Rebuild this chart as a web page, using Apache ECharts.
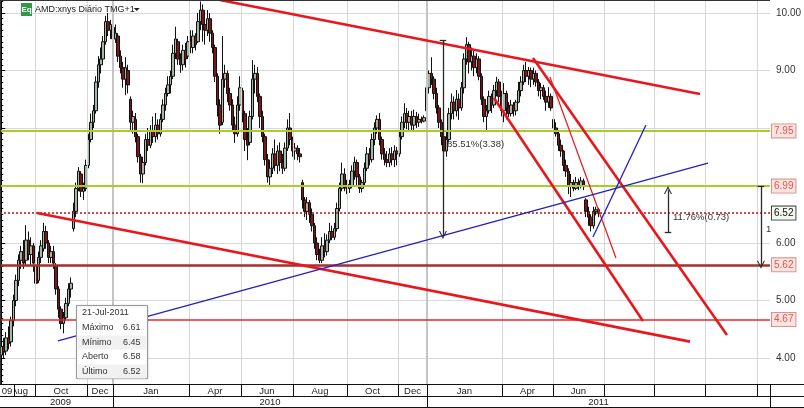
<!DOCTYPE html>
<html><head><meta charset="utf-8">
<script src="https://cdn.jsdelivr.net/npm/echarts@6/dist/echarts.min.js"></script>
<style>html,body{margin:0;padding:0;background:#fff;}#c{width:804px;height:408px;}</style>
</head><body><div id="c"></div>
<script>
// ---- DATA (each candle = two trading sessions, AMD:xnys, Aug-2009 .. 21-Jul-2011) ----
const opens = [
4.05,4.20,4.12,4.35,4.28,4.65,5.00,5.35,5.70,5.85,
5.70,6.05,5.80,5.95,5.60,5.35,5.75,5.90,6.20,6.00,
5.75,5.85,5.60,5.20,4.85,4.60,4.70,4.95,5.20,6.25,
6.55,6.95,7.20,6.90,6.95,7.35,7.80,8.10,8.30,8.80,
9.10,9.20,9.50,9.85,9.70,9.75,9.55,9.60,9.25,9.05,
8.85,9.00,8.50,8.10,8.15,7.85,7.50,7.20,7.40,7.80,
7.70,7.95,7.85,8.05,7.90,8.15,8.40,8.60,8.75,8.90,
9.30,9.50,9.20,9.10,9.35,9.25,9.50,9.40,9.60,9.50,
9.85,10.05,9.80,9.70,9.90,9.65,9.40,8.90,8.40,8.10,
8.85,8.95,8.60,8.40,8.05,7.90,8.40,8.65,8.25,7.80,
7.75,8.20,8.85,8.95,8.55,8.20,7.85,7.45,7.15,7.30,
7.55,7.35,7.60,7.40,7.30,7.65,8.00,7.80,7.60,7.65,
7.55,7.05,6.75,6.55,6.70,6.50,6.30,6.00,5.80,5.70,
5.95,5.85,6.05,6.20,6.10,6.25,6.60,6.95,7.20,7.00,
6.95,7.00,7.25,7.40,7.15,6.95,7.05,7.30,7.55,7.45,
7.80,8.00,8.15,7.80,7.55,7.45,7.40,7.55,7.45,7.60,
7.55,7.85,8.10,8.25,8.10,8.20,8.05,8.20,8.10,8.15,
8.12,8.30,8.70,8.95,8.85,8.60,8.35,8.10,7.85,7.60,
7.80,8.25,8.45,8.30,8.50,8.35,8.70,9.20,9.45,9.15,
9.25,9.05,9.20,8.90,8.50,8.20,8.30,8.55,8.40,8.65,
8.80,8.55,8.30,8.60,8.35,8.25,8.40,8.30,8.45,8.65,
8.80,9.00,8.90,9.00,8.85,8.95,8.80,8.65,8.70,8.55,
8.45,8.55,8.15,8.00,7.90,7.70,7.60,7.35,7.25,7.00,
7.05,6.95,7.05,7.00,7.08,6.75,6.55,6.45,6.30,6.55,
6.58];
const closes = [
4.20,4.10,4.35,4.25,4.65,5.00,5.35,5.70,5.85,5.65,
6.05,5.80,5.95,5.65,5.30,5.75,5.95,6.20,6.00,5.75,
5.85,5.65,5.20,4.85,4.60,4.70,4.95,5.20,5.30,6.55,
6.95,7.25,6.90,6.95,7.35,7.80,8.10,8.30,8.80,9.10,
9.20,9.50,9.85,9.70,9.80,9.55,9.65,9.25,9.05,8.85,
9.05,8.75,8.10,8.20,7.85,7.50,7.20,7.40,7.80,7.70,
7.95,7.85,8.05,7.90,8.15,8.40,8.60,8.75,8.90,9.30,
9.55,9.20,9.10,9.35,9.20,9.50,9.40,9.60,9.45,9.85,
10.05,9.80,9.70,9.90,9.65,9.40,8.90,8.40,8.05,8.85,
8.95,8.60,8.40,8.05,7.90,8.40,8.70,8.25,7.80,7.70,
8.20,8.85,8.95,8.55,8.20,7.85,7.45,7.15,7.30,7.55,
7.35,7.60,7.40,7.30,7.65,8.00,7.80,7.60,7.65,7.55,
7.50,6.75,6.55,6.70,6.50,6.30,6.00,5.80,5.70,5.95,
5.85,6.05,6.20,6.10,6.25,6.60,6.95,7.20,7.00,6.95,
7.02,7.25,7.40,7.15,6.95,7.05,7.30,7.55,7.45,7.80,
8.00,8.15,7.80,7.55,7.45,7.40,7.55,7.45,7.60,7.55,
7.85,8.10,8.25,8.10,8.20,8.05,8.20,8.10,8.15,8.12,
8.18,8.70,8.95,8.85,8.60,8.35,8.10,7.85,7.60,7.80,
8.25,8.45,8.30,8.50,8.35,8.70,9.20,9.45,9.15,9.25,
9.05,9.20,8.90,8.50,8.20,8.30,8.55,8.40,8.65,8.80,
8.55,8.30,8.60,8.35,8.25,8.40,8.30,8.45,8.65,8.80,
9.00,8.90,9.00,8.85,8.95,8.80,8.65,8.70,8.55,8.45,
8.55,8.35,8.00,7.90,7.70,7.60,7.35,7.25,7.00,7.05,
6.95,7.05,7.00,7.08,6.98,6.55,6.45,6.30,6.55,6.58,
6.52];
const lows = [
3.95,4.00,4.05,4.15,4.20,4.55,4.90,5.25,5.55,5.55,
5.60,5.70,5.60,5.50,5.13,5.30,5.65,5.85,5.90,5.65,
5.65,5.55,5.10,4.70,4.50,4.43,4.65,4.90,5.05,6.20,
6.45,6.90,6.80,6.75,6.90,7.30,7.75,8.00,8.25,8.70,
8.95,9.10,9.45,9.60,9.55,9.45,9.48,9.15,8.95,8.70,
8.57,8.60,7.95,7.90,7.75,7.40,7.05,7.04,7.35,7.60,
7.65,7.74,7.75,7.80,7.85,8.10,8.30,8.55,8.60,8.85,
9.20,9.10,8.96,9.00,9.05,9.20,9.30,9.30,9.35,9.48,
9.70,9.50,9.45,9.60,9.50,9.30,8.80,8.20,7.90,8.05,
8.70,8.45,8.30,7.95,7.74,7.85,8.30,8.10,7.60,7.44,
7.70,8.15,8.60,8.45,8.00,7.75,7.35,7.05,7.00,7.20,
7.25,7.20,7.25,7.20,7.25,7.60,7.70,7.50,7.45,7.44,
7.40,6.60,6.45,6.40,6.35,6.20,5.90,5.70,5.65,5.65,
5.75,5.78,6.00,6.05,6.05,6.20,6.55,6.90,6.90,6.85,
6.87,6.95,7.10,7.00,6.87,6.88,7.00,7.25,7.35,7.40,
7.70,7.90,7.70,7.45,7.35,7.32,7.32,7.35,7.32,7.35,
7.50,7.80,8.00,7.98,7.96,7.95,7.96,8.00,8.02,8.08,
8.10,8.25,8.60,8.75,8.50,8.25,8.00,7.70,7.39,7.50,
7.75,8.15,8.15,8.20,8.14,8.30,8.60,9.10,8.95,9.00,
8.90,8.95,8.83,8.40,8.10,7.96,8.25,8.26,8.35,8.55,
8.45,8.20,8.10,8.15,8.19,8.20,8.20,8.22,8.43,8.55,
8.75,8.80,8.75,8.71,8.75,8.72,8.55,8.50,8.49,8.30,
8.35,8.30,7.96,7.85,7.60,7.50,7.25,7.15,6.85,6.80,
6.90,6.92,6.92,6.95,6.92,6.45,6.30,6.20,6.25,6.48,
6.45];
const highs = [
4.30,4.35,4.45,4.55,4.72,5.10,5.45,5.80,5.95,6.05,
6.31,6.20,6.10,6.00,5.70,5.85,6.05,6.35,6.30,6.05,
5.95,5.95,5.65,5.25,4.90,4.80,5.05,5.30,5.40,6.70,
7.05,7.32,7.25,7.05,7.45,7.90,8.25,8.40,8.90,9.25,
9.40,9.60,9.95,10.00,9.88,9.85,9.80,9.65,9.35,9.15,
9.23,9.10,8.55,8.30,8.26,7.90,7.55,7.50,7.90,8.00,
8.05,8.20,8.26,8.15,8.25,8.50,8.70,8.90,9.00,9.45,
9.76,9.55,9.30,9.45,9.48,9.60,9.70,9.70,9.65,10.00,
10.20,10.15,9.95,10.05,10.00,9.70,9.45,8.95,8.50,9.60,
9.10,9.00,8.70,8.50,8.20,8.55,8.90,8.70,8.30,8.00,
8.30,9.18,9.10,9.06,8.60,8.30,7.90,7.55,7.45,7.65,
7.80,7.70,7.75,7.55,7.75,8.15,8.26,7.85,7.74,7.70,
7.65,7.10,6.80,6.80,6.75,6.60,6.35,6.10,5.90,6.10,
6.17,6.15,6.35,6.30,6.35,6.70,7.05,7.40,7.30,7.10,
7.10,7.35,7.50,7.45,7.20,7.10,7.40,7.67,7.65,7.90,
8.10,8.22,8.26,7.85,7.65,7.60,7.65,7.67,7.70,7.67,
7.96,8.20,8.43,8.35,8.30,8.30,8.32,8.28,8.25,8.20,
8.22,8.80,9.00,9.23,8.90,8.70,8.40,8.15,7.90,7.96,
8.35,8.60,8.55,8.66,8.60,8.80,9.30,9.58,9.50,9.40,
9.35,9.30,9.25,8.95,8.55,8.40,8.65,8.60,8.75,8.89,
8.85,8.65,8.78,8.65,8.45,8.49,8.45,8.49,8.80,8.90,
9.10,9.15,9.06,9.05,9.05,9.00,8.85,8.78,8.75,8.65,
8.71,8.60,8.19,8.10,7.96,7.80,7.62,7.45,7.30,7.20,
7.10,7.15,7.12,7.15,7.12,6.78,6.63,6.50,6.63,6.63,
6.61];
const lastDate = '21-Jul-2011';

// month starts, in candle units (x axis), and the header labels of each month cell
const monthEdges = [5.13, 13.57, 34.47, 44.92, 75.47, 96.36, 117.27, 138.97, 159.47, 171.13, 201.27, 221.77, 242.27, 262.37, 282.87, 303.76];
const monthLabels = ['09','Aug','Oct','Dec','Jan','Apr','Jun','Aug','Oct','Dec','Jan','Apr','Jun','','','','',''];
const yearEdges = [44.92, 171.13];
const yearLabels = ['2009','2010','2011'];

// price levels (horizontal lines with tags on the right axis)
const levelLines = [7.95, 6.99, 6.52, 5.62, 4.67];

// trend lines: [[x,price],[x,price]]
const redThick = [
  [[87.9,10.226],[280.85,8.591]],
  [[14.37,6.522],[276.83,4.285]],
  [[198.05,8.522],[257.94,4.643]],
  [[213.73,9.217],[291.7,4.40]]
];
const redThin = [[[220.56,8.887],[247.09,5.739]]];
const blueLines = [
  [[22.81,4.296],[284.07,7.391]],
  [[237.84,6.104],[259.15,8.052]]
];
// measuring arrows: x, from price (bar end), to price (arrow head)
const arrowX = [177.55, 268.0, 305.37];
const arrowFrom = [9.53, 6.19, 6.99];
const arrowTo = [6.14, 6.92, 5.62];
const arrowTexts = ['85.51%(3.38)', '11.76%(0.73)', '1'];
const arrowTextX = [179.2, 270.0, 307.4];
const arrowTextY = [7.72, 6.45, 6.24];

// ---- CHART ----
const FN = "'Liberation Sans Narrow','Liberation Sans',Arial,sans-serif";
const FA = "'Liberation Sans',Arial,sans-serif";
const chart = echarts.init(document.getElementById('c'));
const candles = opens.map((o, i) => [i, o, closes[i], lows[i], highs[i]]);

const PLOT_H = 392;           // plot height in px
const PPU = 57.5;             // px per price unit
const Y_TOP_VAL = 10 + 13 / PPU;            // price at top edge
const Y_BOT_VAL = Y_TOP_VAL - PLOT_H / PPU; // price at bottom edge

const pink = {bg:'#fbe3df', bd:'#d9918c', tx:'#e0564f'};
const levelLook = [
  {c:'#a9cc26', w:2, t:'solid', g:pink},
  {c:'#a9cc26', w:2, t:'solid', g:pink},
  {c:'#b3141a', w:1.5, t:[2,2], g:{bg:'#f3f7ee', bd:'#444', tx:'#111'}},
  {c:'#a3302e', w:2.5, t:'solid', g:pink},
  {c:'#e6262a', w:1.5, t:'solid', g:pink}
];

const seg = (a, b, style) => [{coord:a, symbol:'none', lineStyle:style}, {coord:b, symbol:'none'}];

const trendData = [];
redThick.forEach(l => trendData.push(seg(l[0], l[1], {color:'#e8171d', width:2.6, type:'solid'})));
redThin.forEach(l => trendData.push(seg(l[0], l[1], {color:'#e8171d', width:1.2, type:'solid'})));
blueLines.forEach(l => trendData.push(seg(l[0], l[1], {color:'#2020c0', width:1.3, type:'solid'})));
arrowX.forEach((x, i) => {
  trendData.push([{coord:[x, arrowFrom[i]], symbol:'none', lineStyle:{color:'#2a2a2a', width:1.3, type:'solid'}},
                  {coord:[x, arrowTo[i]], symbol:'path://M5,0 L10,9 L8.6,9 L5,2.6 L1.4,9 L0,9 Z', symbolSize:8}]);
  trendData.push(seg([x - 1.3, arrowFrom[i]], [x + 1.3, arrowFrom[i]], {color:'#2a2a2a', width:1.3, type:'solid'}));
});

const option = {
  animation: false,
  backgroundColor: '#fff',
  grid: {left: 0, top: 0, width: 770, height: PLOT_H, show: false},
  xAxis: {type: 'value', min: -0.5, max: 309, show: false, splitLine: {show: false}},
  yAxis: {
    type: 'value', position: 'right', min: Y_BOT_VAL, max: Y_TOP_VAL, minInterval: 1, maxInterval: 1, splitNumber: 7,
    axisLine: {show: true, lineStyle: {color: '#000', width: 1}},
    axisTick: {show: true, length: 4, lineStyle: {color: '#000'}},
    minorTick: {show: true, splitNumber: 10, length: 2, lineStyle: {color: '#000'}},
    splitLine: {show: true, lineStyle: {color: '#d9d9d9', width: 1}},
    minorSplitLine: {show: false},
    axisLabel: {color: '#333', fontSize: 10, fontFamily: FN, margin: 6, showMinLabel: false, showMaxLabel: false,
      formatter: v => (Math.abs(v - Math.round(v)) < 1e-6 && v >= 4 && v <= 10 && v !== 7 && v !== 8) ? v.toFixed(2) : ''}
  },
  series: [
    {type: 'line', data: [], z: 1, silent: true,
     markLine: {silent: true, symbol: 'none', label: {show: false},
       data: monthEdges.slice(1).map(u => ({xAxis: u,
         lineStyle: yearEdges.indexOf(u) >= 0 ? {color: '#c4c4c4', width: 2, type: 'solid'} : {color: '#d6d6d6', width: 1, type: 'solid'}}))}},
    {type: 'candlestick', data: candles, encode: {x: 0, y: [1, 2, 3, 4]}, z: 2, barWidth: 3,
     itemStyle: {color: '#a3b8a4', color0: '#7d1616', borderColor: '#111', borderColor0: '#111', borderWidth: 1}},
    {type: 'line', data: [], z: 3, silent: true,
     markLine: {silent: true, symbol: 'none',
       data: levelLines.map((v, i) => ({yAxis: v,
         lineStyle: {color: levelLook[i].c, width: levelLook[i].w, type: levelLook[i].t},
         label: {show: true, position: 'end', distance: 2, formatter: () => v.toFixed(2),
           fontSize: 10, fontFamily: FN, color: levelLook[i].g.tx, backgroundColor: levelLook[i].g.bg,
           borderColor: levelLook[i].g.bd, borderWidth: 1, padding: [2, 2, 1, 2]}}))}},
    {type: 'line', data: [], z: 4, silent: true,
     markLine: {silent: true, label: {show: false}, data: trendData}}
  ]
};
chart.setOption(option);

// ---- overlays: title, annotation texts, tooltip snapshot, date header ----
const px = u => chart.convertToPixel({xAxisIndex: 0}, u);
const py = v => chart.convertToPixel({yAxisIndex: 0}, v);
const measure = (t, f) => { const cv = document.createElement('canvas').getContext('2d'); cv.font = f; return cv.measureText(t).width; };
const g = [];
const PR = 770; // right edge of plot
// plot border (top/left)
g.push({type: 'line', shape: {x1: 0, y1: 0.5, x2: PR, y2: 0.5}, style: {stroke: '#333', lineWidth: 1}, z: 50});
g.push({type: 'line', shape: {x1: 0.5, y1: 0, x2: 0.5, y2: PLOT_H}, style: {stroke: '#333', lineWidth: 1}, z: 50});
// title
const titleFont = '9px ' + FA;
const titleText = 'AMD:xnys Diário TMG+1';
g.push({type: 'rect', shape: {x: 21, y: 3, width: 11, height: 13}, style: {fill: '#2f9a45'}, z: 50});
g.push({type: 'text', x: 26.5, y: 10, style: {text: 'Eq', fill: '#fff', font: 'bold 8px ' + FA, textAlign: 'center', textVerticalAlign: 'middle'}, z: 51});
g.push({type: 'text', x: 35, y: 10, style: {text: titleText, fill: '#222', font: titleFont, textVerticalAlign: 'middle'}, z: 51});
const tEnd = 35 + measure(titleText, titleFont);
g.push({type: 'polygon', shape: {points: [[tEnd - 1, 8], [tEnd + 5, 8], [tEnd + 2, 11]]}, style: {fill: '#222'}, z: 51});
// arrow annotation texts
arrowTexts.forEach((t, i) => g.push({type: 'text', x: px(arrowTextX[i]), y: py(arrowTextY[i]),
  style: {text: t, fill: '#333', font: '9.5px ' + FA, textVerticalAlign: 'middle'}, z: 52}));
// tooltip snapshot of the last candle
const L = opens.length - 1;
const tipRows = [['Máximo', highs[L]], ['Mínimo', lows[L]], ['Aberto', opens[L]], ['Último', closes[L]]];
g.push({type: 'rect', shape: {x: 76.5, y: 305.5, width: 71, height: 73}, style: {fill: '#fff', stroke: '#9a9a9a', lineWidth: 1, shadowBlur: 2, shadowColor: 'rgba(0,0,0,0.15)'}, z: 60});
g.push({type: 'text', x: 82, y: 313, style: {text: lastDate, fill: '#333', font: '9px ' + FA, textVerticalAlign: 'middle'}, z: 61});
tipRows.forEach((r, k) => {
  const yc = 328 + k * 14.5;
  if (k % 2 === 1) g.push({type: 'rect', shape: {x: 78, y: yc - 7, width: 68, height: 14}, style: {fill: '#f1f1f1'}, z: 60});
  g.push({type: 'text', x: 82, y: yc, style: {text: r[0], fill: '#333', font: '9px ' + FA, textVerticalAlign: 'middle'}, z: 61});
  g.push({type: 'text', x: 123, y: yc, style: {text: r[1].toFixed(2), fill: '#333', font: '9px ' + FA, textVerticalAlign: 'middle'}, z: 61});
});
// date header
const HT = 384, HM = 396, HB = 407;
g.push({type: 'rect', shape: {x: 0, y: HT, width: 804, height: 408 - HT}, style: {fill: '#fff'}, z: 70});
[HT, HM, HB].forEach(yy => g.push({type: 'line', shape: {x1: 0, y1: yy + 0.5, x2: 804, y2: yy + 0.5}, style: {stroke: '#111', lineWidth: 1}, z: 71}));
g.push({type: 'line', shape: {x1: PR + 0.5, y1: HT, x2: PR + 0.5, y2: HB}, style: {stroke: '#111', lineWidth: 1}, z: 74});
const edgesPx = [0].concat(monthEdges.map(px)).concat([PR]);
monthEdges.forEach(u => { const xx = Math.round(px(u)) + 0.5;
  g.push({type: 'line', shape: {x1: xx, y1: HT, x2: xx, y2: HM}, style: {stroke: '#111', lineWidth: 1}, z: 74}); });
const mFont = '9.5px ' + FN, mY = (HT + HM) / 2 + 1;
for (let k = 0; k < edgesPx.length - 1; k++) {
  if (!monthLabels[k]) continue;
  if (k === 1) {
    // first month label is clipped by its cell's left edge
    g.push({type: 'text', x: edgesPx[k] - 3, y: mY, style: {text: monthLabels[k], fill: '#222', font: mFont, textVerticalAlign: 'middle'}, z: 72});
    g.push({type: 'rect', shape: {x: 1, y: HT + 1, width: edgesPx[k] - 1, height: HM - HT - 1}, style: {fill: '#fff'}, z: 73});
    continue;
  }
  g.push({type: 'text', x: (edgesPx[k] + edgesPx[k + 1]) / 2, y: mY,
    style: {text: monthLabels[k], fill: '#222', font: mFont, textAlign: 'center', textVerticalAlign: 'middle'}, z: 74});
}
const yPx = [8].concat(yearEdges.map(px)).concat([PR]);
yearEdges.forEach(u => { const xx = Math.round(px(u)) + 0.5;
  g.push({type: 'line', shape: {x1: xx, y1: HM, x2: xx, y2: HB}, style: {stroke: '#111', lineWidth: 1}, z: 74}); });
yearLabels.forEach((t, k) => g.push({type: 'text', x: (yPx[k] + yPx[k + 1]) / 2, y: (HM + HB) / 2 + 1,
  style: {text: t, fill: '#222', font: mFont, textAlign: 'center', textVerticalAlign: 'middle'}, z: 74}));
chart.setOption({graphic: g});
</script>
</body></html>
